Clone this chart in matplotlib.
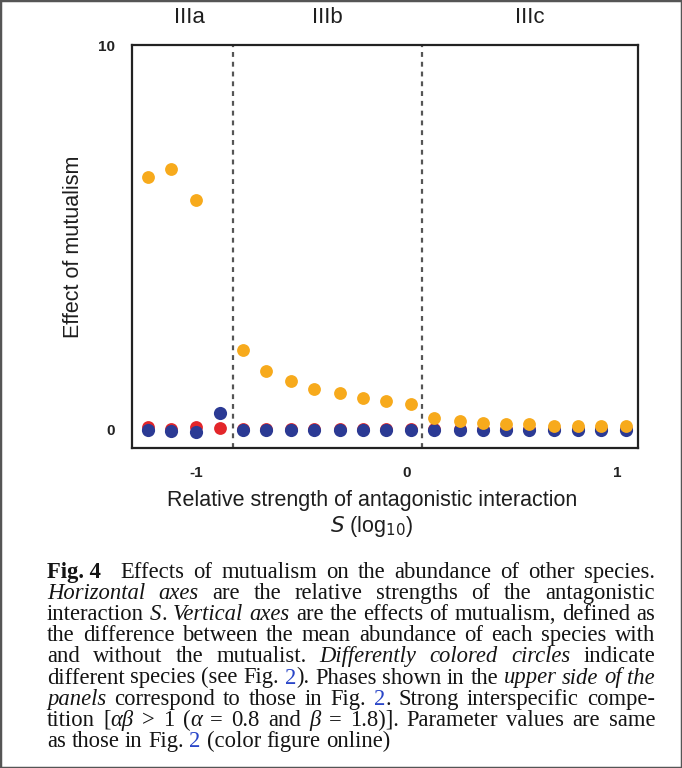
import numpy as np
import matplotlib
matplotlib.use("Agg")
import matplotlib.pyplot as plt
from matplotlib.patches import Rectangle

# data
s_log = [-1.23, -1.12, -1.00, -0.89, -0.78, -0.67, -0.55, -0.44, -0.32, -0.21, -0.10,
         0.02, 0.13, 0.25, 0.36, 0.47, 0.58, 0.70, 0.81, 0.92, 1.04]
orange = [6.58, 6.78, 5.97, np.nan, 2.08, 1.54, 1.28, 1.07, 0.95, 0.82, 0.76,
          0.67, 0.30, 0.23, 0.18, 0.16, 0.15, 0.11, 0.10, 0.10, 0.10]
blue = [0.0, -0.03, -0.05, 0.43, 0, 0, 0, 0, 0, 0, 0,
        0, 0, 0, 0, 0, 0, 0, 0, 0, 0]
red = [0.08, 0.03, 0.08, 0.06, 0.02, 0.02, 0.02, 0.02, 0.02, 0.02, 0.02,
       0.02, 0.02, 0.02, 0.02, 0.02, 0.02, 0.02, 0.02, 0.02, 0.02]
phase_bounds = [-0.828, 0.070]
phase_names = ["IIIa", "IIIb", "IIIc"]
phase_pos = [-1.035, -0.38, 0.585]
xticks = [-1, 0, 1]
yticks = [0, 10]

plt.rcParams['font.family'] = ['Liberation Sans', 'DejaVu Sans']

fig = plt.figure(figsize=(6.82, 7.68), dpi=100)
ax = fig.add_axes([0.1935, 0.4171, 0.742, 0.5243])

ax.scatter(s_log, red, s=85, color='#e3262a', zorder=3, linewidths=0)
ax.scatter(s_log, blue, s=90, color='#2b3a94', zorder=4, linewidths=0)
ax.scatter(s_log, orange, s=85, color='#f7aa1c', zorder=5, linewidths=0)

for b in phase_bounds:
    ax.axvline(b, color='#555555', lw=1.6, ls=(0, (2.2, 2.2)), zorder=2)

ax.set_xlim(-1.306, 1.097)
ax.set_ylim(-0.46, 10)
ax.set_xticks(xticks)
ax.set_xticklabels([str(t) for t in xticks], fontweight='bold', fontsize=11, color='#222222')
ax.set_yticks(yticks)
ax.set_yticklabels([str(t) for t in yticks], fontweight='bold', fontsize=11, color='#222222')
ax.tick_params(axis='x', length=0, pad=13)
ax.tick_params(axis='y', length=0, pad=12)
for sp in ax.spines.values():
    sp.set_linewidth(1.6)
    sp.set_color('#222222')

for name, px in zip(phase_names, phase_pos):
    ax.text(px, 1.0 + 27 / 402, name, transform=ax.get_xaxis_transform(),
            ha='center', va='center', fontsize=16, color='#1e1e1e')

ax.set_ylabel("Effect of mutualism", fontsize=15.5, color='#1e1e1e', labelpad=10)
ax.set_xlabel("Relative strength of antagonistic interaction\n$\\mathit{S}$ (log$_{10}$)",
              fontsize=15.5, color='#1e1e1e', linespacing=1.15)
ax.xaxis.set_label_coords(0.474, -0.105)

# caption, justified by hand
R, I, B, L = 'r', 'i', 'b', 'l'
caption = [
    [[("Fig. 4", B)], [("Effects", R)], [("of", R)], [("mutualism", R)], [("on", R)], [("the", R)],
     [("abundance", R)], [("of", R)], [("other", R)], [("species.", R)]],
    [[("Horizontal", I)], [("axes", I)], [("are", R)], [("the", R)], [("relative", R)],
     [("strengths", R)], [("of", R)], [("the", R)], [("antagonistic", R)]],
    [[("interaction", R)], [("S", I), (".", R)], [("Vertical", I)], [("axes", I)], [("are", R)],
     [("the", R)], [("effects", R)], [("of", R)], [("mutualism,", R)], [("defined", R)], [("as", R)]],
    [[("the", R)], [("difference", R)], [("between", R)], [("the", R)], [("mean", R)],
     [("abundance", R)], [("of", R)], [("each", R)], [("species", R)], [("with", R)]],
    [[("and", R)], [("without", R)], [("the", R)], [("mutualist.", R)], [("Differently", I)],
     [("colored", I)], [("circles", I)], [("indicate", R)]],
    [[("different", R)], [("species", R)], [("(see", R)], [("Fig.", R)], [("2", L), (").", R)],
     [("Phases", R)], [("shown", R)], [("in", R)], [("the", R)], [("upper", I)], [("side", I)],
     [("of", I)], [("the", I)]],
    [[("panels", I)], [("correspond", R)], [("to", R)], [("those", R)], [("in", R)], [("Fig.", R)],
     [("2", L), (".", R)], [("Strong", R)], [("interspecific", R)], [("compe-", R)]],
    [[("tition", R)], [("[", R), ("αβ", I)], [(">", R)], [("1", R)], [("(", R), ("α", I)], [("=", R)],
     [("0.8", R)], [("and", R)], [("β", I)], [("=", R)], [("1.8)].", R)], [("Parameter", R)],
     [("values", R)], [("are", R)], [("same", R)]],
    [[("as", R)], [("those", R)], [("in", R)], [("Fig.", R)], [("2", L)], [("(color", R)],
     [("figure", R)], [("online)", R)]],
]
styles = {
    R: dict(family='Liberation Serif', color='#141414'),
    I: dict(family='Liberation Serif', style='italic', color='#141414'),
    B: dict(family='Liberation Serif', weight='bold', color='#141414'),
    L: dict(family='Liberation Serif', color='#2a46c8'),
}
cap_size = 16.3
left_px, right_px = 47, 655
top_px, line_px = 578, 21.1
W, H = 682.0, 768.0

fig.canvas.draw()
renderer = fig.canvas.get_renderer()


def piece_width(txt, st):
    t = fig.text(0, 0, txt, fontsize=cap_size, **styles[st])
    w = t.get_window_extent(renderer).width
    t.remove()
    return w


space_w = piece_width("a a", R) - piece_width("aa", R)
for li, words in enumerate(caption):
    widths = [[piece_width(p, st) for p, st in w] for w in words]
    total = sum(sum(w) for w in widths)
    gap_weights = [2.2 if (li == 0 and k == 0) else 1.0 for k in range(len(words) - 1)]
    if li == len(caption) - 1:
        unit = space_w
    else:
        unit = (right_px - left_px - total) / sum(gap_weights)
    x = left_px
    y = 1 - (top_px + li * line_px) / H
    for k, (w, ws) in enumerate(zip(words, widths)):
        px = x
        for (p, st), pw in zip(w, ws):
            fig.text(px / W, y, p, fontsize=cap_size, va='baseline', ha='left', **styles[st])
            px += pw
        x = px
        if k < len(gap_weights):
            x += unit * gap_weights[k]

# page frame lines
fig.add_artist(Rectangle((0, 0), 1, 1, transform=fig.transFigure, fill=False,
                         edgecolor='#555555', lw=2.5))

fig.savefig("out.png", dpi=100)
